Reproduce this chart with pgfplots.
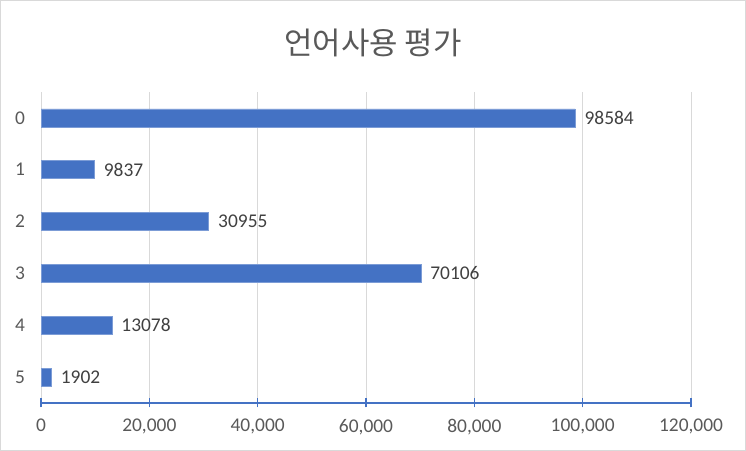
\documentclass[border=0pt]{standalone}
\usepackage{pgfplots}
\pgfplotsset{compat=1.18}
\usepackage{fontspec}
\setmainfont{Carlito}
\newfontfamily\krfont{Noto Sans CJK KR}
\definecolor{barblue}{HTML}{4472C4}
\definecolor{txtgray}{HTML}{595959}
\definecolor{lblgray}{HTML}{404040}
\definecolor{gridgray}{HTML}{D9D9D9}
\begin{document}
\begin{tikzpicture}[x=1bp,y=1bp]
\draw[gridgray, line width=1bp] (0.5,0.5) rectangle (745.5,450.5);
\node[text=txtgray, font=\krfont\fontsize{31}{34}\selectfont] at (373,408) {언어사용 평가};
\begin{axis}[
  at={(41bp,48bp)}, anchor=south west,
  scale only axis, width=650bp, height=311bp,
  xbar, bar width=18bp,
  xmin=0, xmax=120000,
  ymin=-0.5, ymax=5.5,
  xtick={0,20000,40000,60000,80000,100000,120000},
  xticklabels={0,{20,000},{40,000},{60,000},{80,000},{100,000},{120,000}},
  ytick={0,1,2,3,4,5},
  yticklabels={5,4,3,2,1,0},
  axis x line*=bottom, axis y line*=left,
  x axis line style={draw=barblue, line width=1.2bp},
  y axis line style={draw=none},
  xmajorgrids, grid style={gridgray, line width=1bp},
  major tick length=9bp, tick align=center,
  xtick style={barblue, line width=1.2bp},
  ytick style={draw=none},
  scaled x ticks=false,
  ticklabel style={font=\fontsize{19.5}{21}\selectfont, text=txtgray},
  xticklabel style={yshift=-8bp},
  yticklabel style={xshift=-8bp},
  point meta=explicit symbolic,
  nodes near coords,
  nodes near coords style={font=\fontsize{19.5}{21}\selectfont, text=lblgray, anchor=west, xshift=6bp},
]
\addplot[fill=barblue, draw=barblue!70!white, line width=0.5bp] coordinates {
  (98584,5) [98584]
  (9837,4) [9837]
  (30955,3) [30955]
  (70106,2) [70106]
  (13078,1) [13078]
  (1902,0) [1902]
};
\end{axis}
\end{tikzpicture}
\end{document}
